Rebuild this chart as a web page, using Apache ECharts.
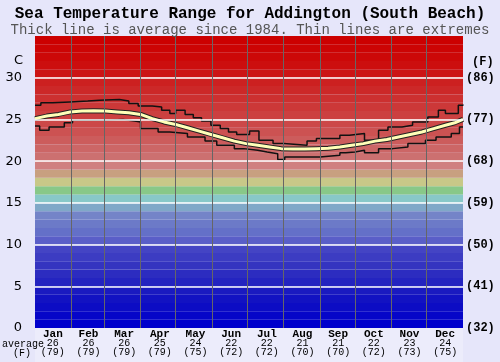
<!DOCTYPE html>
<html><head><meta charset="utf-8">
<script src="https://cdn.jsdelivr.net/npm/echarts@6/dist/echarts.min.js"></script>
<style>html,body{margin:0;padding:0;background:#e6e6fa;}#c{width:500px;height:362px;}</style>
</head><body><div id="c"></div>
<script>
var months = ['Jan','Feb','Mar','Apr','May','Jun','Jul','Aug','Sep','Oct','Nov','Dec'];
var monthAvgC = [26,26,26,25,24,22,22,21,21,22,23,24];
var monthAvgF = [79,79,79,79,75,72,72,70,70,72,73,75];
var monthStarts = [31,59,90,120,151,181,212,243,273,304,334];
var yTicksC = [0,5,10,15,20,25,30];

var avgDays = [0,10,20,30,40,50,60,70,80,90,100,110,120,130,140,150,160,170,180,190,200,210,220,230,240,250,260,270,280,290,300,310,320,330,340,350,358,365];
var avgVals = [25.1,25.4,25.6,25.9,26.0,26.05,26.0,25.9,25.8,25.6,25.1,24.7,24.4,24.0,23.6,23.2,22.8,22.4,22.1,21.9,21.7,21.5,21.45,21.45,21.5,21.55,21.7,21.9,22.1,22.4,22.6,22.9,23.2,23.5,23.9,24.3,24.6,25.0];

var hiDays = [0,5,15,30,45,55,72,80,88,100,108,115,120,128,135,142,150,158,165,172,183,191,203,212,232,240,260,268,281,293,301,313,322,335,344,350,361,365];
var hiVals = [26.7,27.0,27.1,27.2,27.3,27.4,27.2,26.9,26.6,26.5,26.1,25.7,26.1,25.6,25.2,24.8,24.3,23.9,23.5,23.2,23.6,22.5,22.1,21.9,22.4,22.7,23.1,23.3,22.5,23.7,24.1,24.3,24.7,25.3,26.1,25.7,26.7,26.8];

var loDays = [0,4,12,25,32,60,75,85,90,105,115,130,145,155,170,178,190,198,207,213,243,260,265,273,281,293,305,318,333,342,355,362,365];
var loVals = [24.2,23.7,24.1,24.6,24.9,25.0,24.8,24.7,23.9,23.5,23.3,22.9,22.4,21.9,21.5,21.3,21.1,20.9,20.2,20.5,20.7,21.0,21.1,21.3,21.0,21.5,21.7,22.1,22.5,22.9,23.3,24.1,24.1];

// colour of each 1-degree band, from 0-1 up to 34-35
var bandColors = ['#0000cc','#0606c8','#0c0cc4','#1212c2','#1a1ac0','#2424c0','#2c2cc0','#3434c0','#3c3cc2','#4444c4',
  '#5a5ec8','#6470c8','#6c7ac8','#7484c8','#80a8c8','#88c8c8','#88c888','#c8c888','#c8a080','#d08080',
  '#cc7070','#cc6666','#cc5c5c','#cc5252','#cc4848','#cc4040','#cc3838','#cc3030','#cc2828','#cc2020',
  '#cc1414','#cc0e0e','#cc0808','#cc0404','#cc0000'];

function pairs(d, v){ return d.map(function(x,i){ return [x, v[i]]; }); }

var bands = bandColors.map(function(c,i){ return [{yAxis:i, itemStyle:{color:c}}, {yAxis:i+1}]; });

var chart = echarts.init(document.getElementById('c'), null, {renderer:'canvas'});
var mono = 'Liberation Mono';
chart.setOption({
  backgroundColor:'#e6e6fa',
  animation:false,
  title:[
    {text:'Sea Temperature Range for Addington (South Beach)', left:'center', top:1,
     textStyle:{fontFamily:mono, fontWeight:'bold', fontSize:16, color:'#000'}},
    {text:'Thick line is average since 1984. Thin lines are extremes', left:'center', top:18,
     textStyle:{fontFamily:mono, fontWeight:'normal', fontSize:14, color:'#555'}}
  ],
  grid:{left:35, right:37, top:36, bottom:34},
  xAxis:[
    {type:'value', min:0, max:365, show:false},
    {type:'category', data:months, position:'bottom', boundaryGap:true,
     axisLine:{show:false}, axisTick:{show:false}, splitLine:{show:false},
     axisLabel:{margin:1, interval:0,
       formatter:function(v,i){ return '{m|'+v+'}\n{n|'+monthAvgC[i]+'}\n{n|('+monthAvgF[i]+')}'; },
       rich:{m:{fontFamily:mono, fontWeight:'bold', fontSize:11, color:'#000', lineHeight:10},
             n:{fontFamily:mono, fontSize:10, color:'#000', lineHeight:9}}}}
  ],
  yAxis:[
    {type:'value', min:0, max:35, interval:5, position:'left',
     axisLine:{show:false}, axisTick:{show:false}, splitLine:{show:false},
     axisLabel:{margin:13, fontFamily:'DejaVu Sans', fontSize:13, color:'#000',
       formatter:function(v){ return v>=35 ? '' : String(v); }}},
    {type:'value', min:0, max:35, interval:5, position:'right',
     axisLine:{show:false}, axisTick:{show:false}, splitLine:{show:false},
     axisLabel:{margin:3, fontFamily:mono, fontWeight:'bold', fontSize:12, color:'#000',
       formatter:function(v){ return v>=35 ? '' : '('+Math.round(v*9/5+32)+')'; }}}
  ],
  graphic:[
    {type:'rect', shape:{x:35, y:328, width:428, height:34}, style:{fill:'#ececfb'}, z:-1},
    {type:'text', left:14, top:54, style:{text:'C', font:'13px DejaVu Sans', fill:'#000'}},
    {type:'text', left:472, top:56, style:{text:'(F)', font:'bold 12px '+mono, fill:'#000'}},
    {type:'text', left:2, top:339, style:{text:'average', font:'10px '+mono, fill:'#000'}},
    {type:'text', left:13, top:348, style:{text:'(F)', font:'10px '+mono, fill:'#000'}}
  ],
  series:[
    {type:'line', data:[], silent:true,
     markArea:{silent:true, data:bands},
     markLine:{silent:true, symbol:'none', label:{show:false},
       lineStyle:{color:'#ffffff', width:1.5, type:'solid'},
       data:yTicksC.filter(function(v){return v>0;}).map(function(v){return {yAxis:v};})}},
    {type:'line', data:[], silent:true,
     markLine:{silent:true, symbol:'none', label:{show:false},
       lineStyle:{color:'#666666', width:1, type:'solid'},
       data:monthStarts.map(function(d){return {xAxis:d};})}},
    {type:'line', data:pairs(hiDays,hiVals), step:'end', showSymbol:false, silent:true,
     lineStyle:{color:'#111', width:1.5}},
    {type:'line', data:pairs(loDays,loVals), step:'end', showSymbol:false, silent:true,
     lineStyle:{color:'#111', width:1.5}},
    {type:'line', data:pairs(avgDays,avgVals), smooth:false, showSymbol:false, silent:true,
     lineStyle:{color:'#222', width:5}},
    {type:'line', data:pairs(avgDays,avgVals), smooth:false, showSymbol:false, silent:true,
     lineStyle:{color:'#ffffb8', width:3}}
  ]
});
</script></body></html>
